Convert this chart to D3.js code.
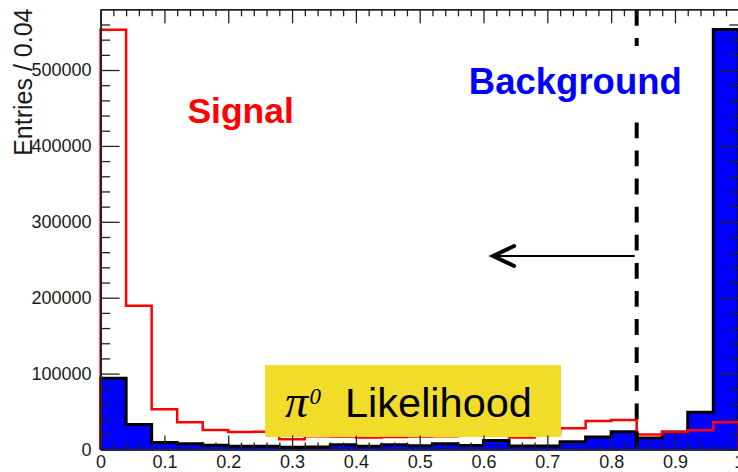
<!DOCTYPE html>
<html>
<head>
<meta charset="utf-8">
<script src="https://cdn.jsdelivr.net/npm/d3@7"></script>
<style>
  html, body { margin: 0; padding: 0; background: #fff; }
  svg { display: block; }
</style>
</head>
<body>
<svg id="chart" width="738" height="472"></svg>
<script>
// ---------------- data ----------------
const binEdges = [0.00, 0.04, 0.08, 0.12, 0.16, 0.20, 0.24, 0.28, 0.32, 0.36, 0.40,
                  0.44, 0.48, 0.52, 0.56, 0.60, 0.64, 0.68, 0.72, 0.76, 0.80,
                  0.84, 0.88, 0.92, 0.96, 1.00];
const signalCounts = [553000, 189500, 53000, 35800, 25700, 23000, 23300, 13400, 17500, 17000,
                      15800, 16500, 17000, 17500, 18000, 19000, 15800, 21500, 27900, 37500,
                      38900, 19800, 23000, 25300, 35800];
const backgroundCounts = [93800, 32800, 9200, 7600, 5700, 4300, 4300, 2900, 3300, 6200,
                          4200, 6200, 5000, 7500, 5200, 12000, 4600, 4600, 10300, 16500,
                          23500, 15000, 23000, 49000, 553500];
const xTickLabels = ["0", "0.1", "0.2", "0.3", "0.4", "0.5", "0.6", "0.7", "0.8", "0.9", "1"];
const xTickValues = [0, 0.1, 0.2, 0.3, 0.4, 0.5, 0.6, 0.7, 0.8, 0.9, 1.0];
const yTickValues = [0, 100000, 200000, 300000, 400000, 500000];
const yTickLabels = ["0", "100000", "200000", "300000", "400000", "500000"];
const yTitle = "Entries / 0.04";
const cutValue = 0.84;
const arrowEnd = 0.615, arrowLevel = 255000;
const signalLabel = "Signal", backgroundLabel = "Background";
const boxLabel = "Likelihood";

// ---------------- scales ----------------
const svg = d3.select("#chart");
const x = d3.scaleLinear().domain([0, 1]).range([100.6, 738.8]);
const y = d3.scaleLinear().domain([0, 580000]).range([449.5, 9.3]);
const FONT = "'Liberation Sans', Arial, Helvetica, sans-serif";

function stepPath(counts) {
  const p = d3.path();
  p.moveTo(x(binEdges[0]), y(0));
  counts.forEach((c, i) => {
    p.lineTo(x(binEdges[i]), y(c));
    p.lineTo(x(binEdges[i + 1]), y(c));
  });
  p.lineTo(x(binEdges[counts.length]), y(0));
  return p.toString();
}

// background histogram (filled)
svg.append("path")
  .attr("d", stepPath(backgroundCounts))
  .attr("fill", "#0000ff")
  .attr("stroke", "#000")
  .attr("stroke-width", 3)
  .attr("stroke-linejoin", "miter");

// signal histogram (line)
svg.append("path")
  .attr("d", stepPath(signalCounts))
  .attr("fill", "none")
  .attr("stroke", "#ff0000")
  .attr("stroke-width", 2.5);

// dashed cut line
svg.append("line")
  .attr("x1", x(cutValue)).attr("x2", x(cutValue))
  .attr("y1", 10).attr("y2", y(0))
  .attr("stroke", "#000")
  .attr("stroke-width", 4)
  .attr("stroke-dasharray", "15.8,12.3");

// arrow
const ay = y(arrowLevel);
svg.append("line")
  .attr("x1", x(cutValue) - 2).attr("x2", x(arrowEnd))
  .attr("y1", ay).attr("y2", ay)
  .attr("stroke", "#000").attr("stroke-width", 2);
svg.append("path")
  .attr("d", `M${x(arrowEnd) + 21},${ay - 10} L${x(arrowEnd)},${ay} L${x(arrowEnd) + 21},${ay + 10}`)
  .attr("fill", "none").attr("stroke", "#000").attr("stroke-width", 4)
  .attr("stroke-linecap", "round").attr("stroke-linejoin", "miter");

// background label with white box
svg.append("rect")
  .attr("x", x(0.56)).attr("y", 46)
  .attr("width", x(0.925) - x(0.56)).attr("height", 70)
  .attr("fill", "#fff");
svg.append("text")
  .attr("x", x(0.577)).attr("y", 94.3)
  .attr("font-family", FONT).attr("font-weight", "bold")
  .attr("font-size", 36.5).attr("fill", "#0000ff")
  .text(backgroundLabel);

// signal label
svg.append("text")
  .attr("x", x(0.136)).attr("y", 122.7)
  .attr("font-family", FONT).attr("font-weight", "bold")
  .attr("font-size", 35.5).attr("fill", "#ff0000")
  .text(signalLabel);

// yellow box with pi0 Likelihood
svg.append("rect")
  .attr("x", 265).attr("y", 365)
  .attr("width", 296).attr("height", 72)
  .attr("fill", "#f2dc2a");
svg.append("text")
  .attr("x", 285).attr("y", 416.7)
  .attr("font-family", "'Liberation Serif', 'Times New Roman', serif")
  .attr("font-style", "italic")
  .attr("font-size", 46).attr("fill", "#000")
  .text("\u03C0");
svg.append("text")
  .attr("x", 309.5).attr("y", 404)
  .attr("font-family", "'Liberation Serif', 'Times New Roman', serif")
  .attr("font-style", "italic")
  .attr("font-size", 23).attr("fill", "#000")
  .text("0");
svg.append("text")
  .attr("x", 345).attr("y", 417)
  .attr("font-family", FONT)
  .attr("font-size", 41.5).attr("fill", "#000")
  .text(boxLabel);

// ---------------- axes ----------------
const minorX = d3.range(0, 51).map(i => i * 0.02).filter(v => Math.round(v * 50) % 5 !== 0);
const minorY = d3.range(0, 29).map(i => i * 20000).filter(v => v % 100000 !== 0);
const majorYAll = [0, 100000, 200000, 300000, 400000, 500000];

function styleAxis(g) {
  g.select(".domain").attr("stroke", "#222").attr("stroke-width", 1.6);
  g.selectAll(".tick line").attr("stroke", "#222").attr("stroke-width", 1.3);
  g.selectAll(".tick text").attr("font-family", FONT).attr("font-size", 18).attr("fill", "#1a1a1a");
}

// bottom
svg.append("g").attr("transform", `translate(0,${y(0)})`)
  .call(d3.axisBottom(x).tickValues(minorX).tickSize(-7).tickSizeOuter(0).tickFormat(""))
  .call(styleAxis);
svg.append("g").attr("transform", `translate(0,${y(0)})`)
  .call(d3.axisBottom(x).tickValues(xTickValues).tickSize(-14).tickSizeOuter(0).tickPadding(6)
    .tickFormat((d, i) => xTickLabels[i]))
  .call(styleAxis);
// top
svg.append("g").attr("transform", `translate(0,${y.range()[1]})`)
  .call(d3.axisTop(x).tickValues(minorX).tickSize(-7).tickSizeOuter(0).tickFormat(""))
  .call(styleAxis);
svg.append("g").attr("transform", `translate(0,${y.range()[1]})`)
  .call(d3.axisTop(x).tickValues(xTickValues).tickSize(-14).tickSizeOuter(0).tickFormat(""))
  .call(styleAxis);
// left
svg.append("g").attr("transform", `translate(${x(0)},0)`)
  .call(d3.axisLeft(y).tickValues(minorY).tickSize(-9.5).tickSizeOuter(0).tickFormat(""))
  .call(styleAxis);
svg.append("g").attr("transform", `translate(${x(0)},0)`)
  .call(d3.axisLeft(y).tickValues(yTickValues).tickSize(-19).tickSizeOuter(0).tickPadding(9)
    .tickFormat((d, i) => yTickLabels[i]))
  .call(styleAxis);
// right
svg.append("g").attr("transform", `translate(${x(1)},0)`)
  .call(d3.axisRight(y).tickValues(minorY).tickSize(-9.5).tickSizeOuter(0).tickFormat(""))
  .call(styleAxis);
svg.append("g").attr("transform", `translate(${x(1)},0)`)
  .call(d3.axisRight(y).tickValues(majorYAll).tickSize(-19).tickSizeOuter(0).tickFormat(""))
  .call(styleAxis);

// y-axis title
svg.append("text")
  .attr("transform", "translate(32,8.5) rotate(-90)")
  .attr("text-anchor", "end")
  .attr("font-family", FONT).attr("font-size", 25).attr("fill", "#1a1a1a")
  .text(yTitle);
</script>
</body>
</html>
